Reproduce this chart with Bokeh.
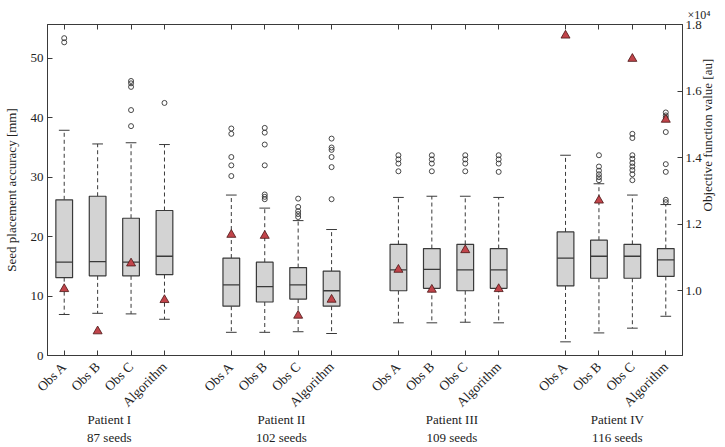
import math
from bokeh.plotting import figure
from bokeh.models import (Range1d, LinearAxis, FixedTicker, Title, CustomJSTickFormatter)
from bokeh.embed import file_html
from bokeh.resources import INLINE

# ---------------- data ----------------
methods = ["Obs A", "Obs B", "Obs C", "Algorithm"]
patients = ["Patient I", "Patient II", "Patient III", "Patient IV"]
seeds = ["87 seeds", "102 seeds", "109 seeds", "116 seeds"]
patient_label_x = [2.35, 7.5, 12.6, 17.55]

# per box (patient-major order): lower whisker, q1, median, q3, upper whisker  [mm]
whisk_lo = [6.9, 7.1, 7.0, 6.1,   3.9, 3.9, 4.0, 3.7,   5.5, 5.5, 5.6, 5.5,   2.3, 3.8, 4.6, 6.6]
q1 =       [13.1, 13.4, 13.4, 13.6, 8.3, 9.0, 9.5, 8.3, 10.9, 11.3, 10.9, 11.3, 11.7, 13.0, 13.0, 13.3]
median =   [15.7, 15.8, 15.7, 16.7, 11.9, 11.6, 11.9, 10.9, 14.4, 14.5, 14.4, 14.4, 16.4, 16.7, 16.7, 16.1]
q3 =       [26.2, 26.8, 23.1, 24.4, 16.4, 15.7, 14.8, 14.2, 18.7, 18.0, 18.7, 18.0, 20.8, 19.4, 18.7, 18.0]
whisk_hi = [37.9, 35.6, 35.8, 35.5, 27.0, 24.8, 22.7, 21.2, 26.6, 26.8, 26.8, 26.6, 33.7, 28.9, 27.0, 25.4]
outliers = [
    [52.7, 53.4], [], [38.6, 41.3, 45.2, 45.8, 46.2], [42.5],
    [30.2, 32.0, 33.4, 37.3, 38.2], [26.3, 26.7, 27.1, 32.0, 35.5, 37.5, 38.3],
    [23.3, 23.8, 24.3, 25.0, 26.4], [26.3, 31.7, 33.4, 34.6, 35.0, 36.5],
    [31.0, 32.3, 33.0, 33.7], [31.0, 32.3, 33.0, 33.7],
    [31.0, 32.3, 33.0, 33.7], [30.9, 32.3, 33.0, 33.7],
    [], [29.5, 30.0, 30.5, 31.1, 31.8, 33.7],
    [29.5, 30.5, 31.2, 31.8, 32.4, 33.1, 33.7, 36.6, 37.3],
    [25.8, 26.2, 30.9, 32.2, 37.6, 40.0, 40.4, 40.9],
]
# objective function value [au]
objective = [10050, 8780, 10820, 9720, 11680, 11650, 9250, 9730,
             10630, 10030, 11220, 10050, 17670, 12710, 16970, 15140]

obj_ticks = [10000, 12000, 14000, 16000, 18000]
obj_tick_labels = ["1.0", "1.2", "1.4", "1.6", "1.8"]
left_ticks = [0, 10, 20, 30, 40, 50]
left_title = "Seed placement accuracy [mm]"
right_title = "Objective function value [au]"
right_title_at = 12380          # where the right-hand title is centred (objective units)
scale_note = "×10⁴"

# ---------------- layout helpers ----------------
xs = [pi * (len(methods) + 1) + k + 1 for pi in range(len(patients)) for k in range(len(methods))]
tick_labels = {x: methods[i % len(methods)] for i, x in enumerate(xs)}
patient_labels = {x: f"{pt}\n{sd}" for x, pt, sd in zip(patient_label_x, patients, seeds)}

FONT = "Liberation Serif"
DARK = "#3a3a3a"
TXT = "#222222"

p = figure(width=725, height=447, x_range=Range1d(0.5, 19.5), y_range=Range1d(0, 55.7),
           output_backend="svg", toolbar_location=None,
           min_border_left=40, min_border_right=41, min_border_top=24, min_border_bottom=92)
p.extra_y_ranges = {"obj": Range1d(8050, 18000)}
p.xgrid.visible = False
p.ygrid.visible = False
p.outline_line_color = DARK
p.background_fill_color = "white"
p.border_fill_color = "white"

half_w = 0.25
cap = 0.16
# whiskers
p.segment(x0=xs, y0=q3, x1=xs, y1=whisk_hi, line_color=DARK, line_dash="4 3", line_width=1)
p.segment(x0=xs, y0=q1, x1=xs, y1=whisk_lo, line_color=DARK, line_dash="4 3", line_width=1)
p.segment(x0=[x - cap for x in xs], y0=whisk_hi, x1=[x + cap for x in xs], y1=whisk_hi,
          line_color=DARK, line_width=1)
p.segment(x0=[x - cap for x in xs], y0=whisk_lo, x1=[x + cap for x in xs], y1=whisk_lo,
          line_color=DARK, line_width=1)
# boxes
p.vbar(x=xs, width=2 * half_w, bottom=q1, top=q3, fill_color="#d3d3d3",
       line_color=DARK, line_width=1.2)
p.segment(x0=[x - half_w for x in xs], y0=median, x1=[x + half_w for x in xs], y1=median,
          line_color=DARK, line_width=1.3)
# outliers
ox, oy = [], []
for x, outs in zip(xs, outliers):
    for v in outs:
        ox.append(x)
        oy.append(v)
p.scatter(ox, oy, marker="circle", size=5, fill_color=None, line_color="#333333", line_width=0.9)
# objective triangles (right axis)
p.scatter(xs, objective, marker="triangle", size=9, fill_color="#c1444a",
          line_color="#4a1515", line_width=0.8, y_range_name="obj")

# ---------------- axes ----------------
def style(ax):
    ax.axis_line_color = DARK
    ax.major_tick_line_color = DARK
    ax.major_tick_in = 5
    ax.major_tick_out = 0
    ax.minor_tick_line_color = None
    ax.major_label_text_font = FONT
    ax.major_label_text_font_size = "13px"
    ax.major_label_text_color = TXT

xa = p.xaxis[0]
xa.ticker = FixedTicker(ticks=xs)
xa.major_label_overrides = tick_labels
xa.major_label_orientation = math.pi / 4
xa.major_label_standoff = 9
style(xa)
xa.major_label_text_font_size = "13.5px"

# patient group labels (second bottom axis without line / ticks)
xb = LinearAxis(ticker=FixedTicker(ticks=patient_label_x),
                major_label_overrides=patient_labels)
style(xb)
xb.axis_line_color = None
xb.major_tick_line_color = None
xb.major_tick_in = 0
xb.major_label_standoff = -6
p.add_layout(xb, "below")

ya = p.yaxis[0]
ya.ticker = FixedTicker(ticks=left_ticks)
ya.major_label_standoff = 4
ya.axis_label = left_title
ya.axis_label_standoff = 9
ya.axis_label_text_font = FONT
ya.axis_label_text_font_size = "13px"
ya.axis_label_text_font_style = "normal"
ya.axis_label_text_color = TXT
style(ya)

top = LinearAxis(ticker=FixedTicker(ticks=xs),
                 formatter=CustomJSTickFormatter(code="return ''"))
style(top)
top.major_label_standoff = 0
p.add_layout(top, "above")

right = LinearAxis(y_range_name="obj", ticker=FixedTicker(ticks=obj_ticks),
                   major_label_overrides=dict(zip(obj_ticks, obj_tick_labels)))
style(right)
right.major_label_standoff = 3
p.add_layout(right, "right")

# right-hand title, reading bottom-to-top
rt = LinearAxis(y_range_name="obj", ticker=FixedTicker(ticks=[right_title_at]),
                major_label_overrides={right_title_at: right_title})
style(rt)
rt.axis_line_color = None
rt.major_tick_line_color = None
rt.major_tick_in = 0
rt.major_label_orientation = math.pi / 2
rt.major_label_standoff = 3
p.add_layout(rt, "right")

# x10^4 multiplier above the right axis
p.add_layout(Title(text=scale_note, align="right", offset=-28, text_font=FONT,
                   text_font_size="12px", text_font_style="normal", text_color=TXT,
                   standoff=6), "above")

open("out.html", "w").write(file_html(p, INLINE))
